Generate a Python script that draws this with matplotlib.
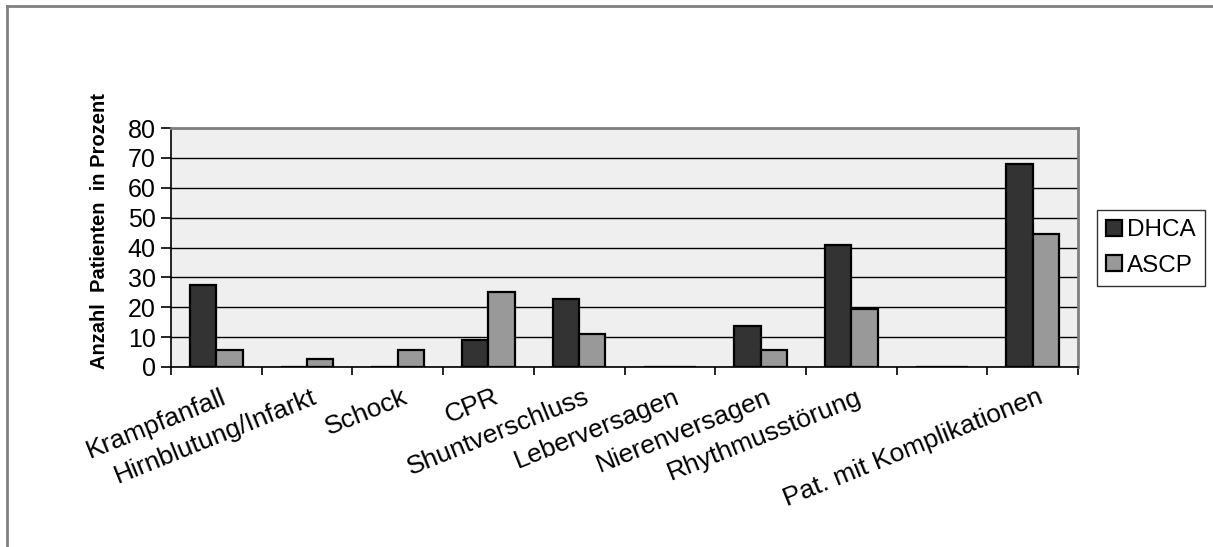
import numpy as np
import matplotlib
matplotlib.use("Agg")
import matplotlib.pyplot as plt
from matplotlib.lines import Line2D

plt.rcParams['font.family'] = ['Liberation Sans', 'DejaVu Sans']

categories = ["Krampfanfall", "Hirnblutung/Infarkt", "Schock", "CPR",
              "Shuntverschluss", "Leberversagen", "Nierenversagen",
              "Rhythmusstörung", "", "Pat. mit Komplikationen"]
dhca = [27.3, 0, 0, 9.1, 22.7, 0, 13.6, 40.9, 0, 68.1]
ascp = [5.6, 2.8, 5.6, 25.0, 11.1, 0, 5.6, 19.4, 0, 44.4]
series_names = ["DHCA", "ASCP"]
yticks = [0, 10, 20, 30, 40, 50, 60, 70, 80]

fig = plt.figure(figsize=(12.13, 5.47), dpi=100)
ax = fig.add_axes([171 / 1213, 1 - 367 / 547, (1078 - 171) / 1213, (367 - 128) / 547])
ax.set_facecolor("#efefef")

x = np.arange(len(categories))
w = 0.29
ax.bar(x - w / 2, dhca, w, color="#333333", edgecolor="black", linewidth=1.6,
       label=series_names[0], zorder=3)
ax.bar(x + w / 2, ascp, w, color="#999999", edgecolor="black", linewidth=1.6,
       label=series_names[1], zorder=3)

ax.set_xlim(-0.5, len(categories) - 0.5)
ax.set_ylim(0, 80)
ax.set_yticks(yticks)
ax.set_yticklabels([str(v) for v in yticks], fontsize=18)
ax.yaxis.grid(True, color="black", linewidth=1.0, zorder=1)
ax.set_axisbelow(True)

# category boundaries carry the ticks, labels sit at the centres
ax.set_xticks(np.arange(len(categories) + 1) - 0.5)
ax.set_xticklabels([])
ax.tick_params(axis="x", length=6, width=1.2, direction="out")
ax.tick_params(axis="y", length=7, width=1.2, direction="out", pad=4)
for i, lab in enumerate(categories):
    ax.text(i + 0.05, -6.0, lab, rotation=22, ha="right", va="top",
            rotation_mode="anchor", fontsize=19)

for side in ["top", "right"]:
    ax.spines[side].set_color("#808080")
    ax.spines[side].set_linewidth(2)
for side in ["left", "bottom"]:
    ax.spines[side].set_color("black")
    ax.spines[side].set_linewidth(1.2)

fig.text(100 / 1213, 1 - 231 / 547, "Anzahl  Patienten  in Prozent",
         rotation=90, ha="center", va="center", fontsize=14.5, fontweight="bold")

leg = fig.legend(loc="center", bbox_to_anchor=(1151 / 1213, 1 - 248 / 547),
                 fontsize=17.5, frameon=True, fancybox=False,
                 handlelength=0.65, handleheight=0.65, handletextpad=0.2,
                 labelspacing=0.55, borderpad=0.4, borderaxespad=0)
leg.get_frame().set_edgecolor("black")
leg.get_frame().set_linewidth(1.0)

# outer chart-area border (left and top visible)
fig.add_artist(Line2D([7 / 1213, 7 / 1213], [0, 1 - 6 / 547], transform=fig.transFigure,
                      color="#808080", linewidth=2))
fig.add_artist(Line2D([7 / 1213, 1], [1 - 6 / 547, 1 - 6 / 547], transform=fig.transFigure,
                      color="#808080", linewidth=2))

fig.savefig("out.png", dpi=100)
